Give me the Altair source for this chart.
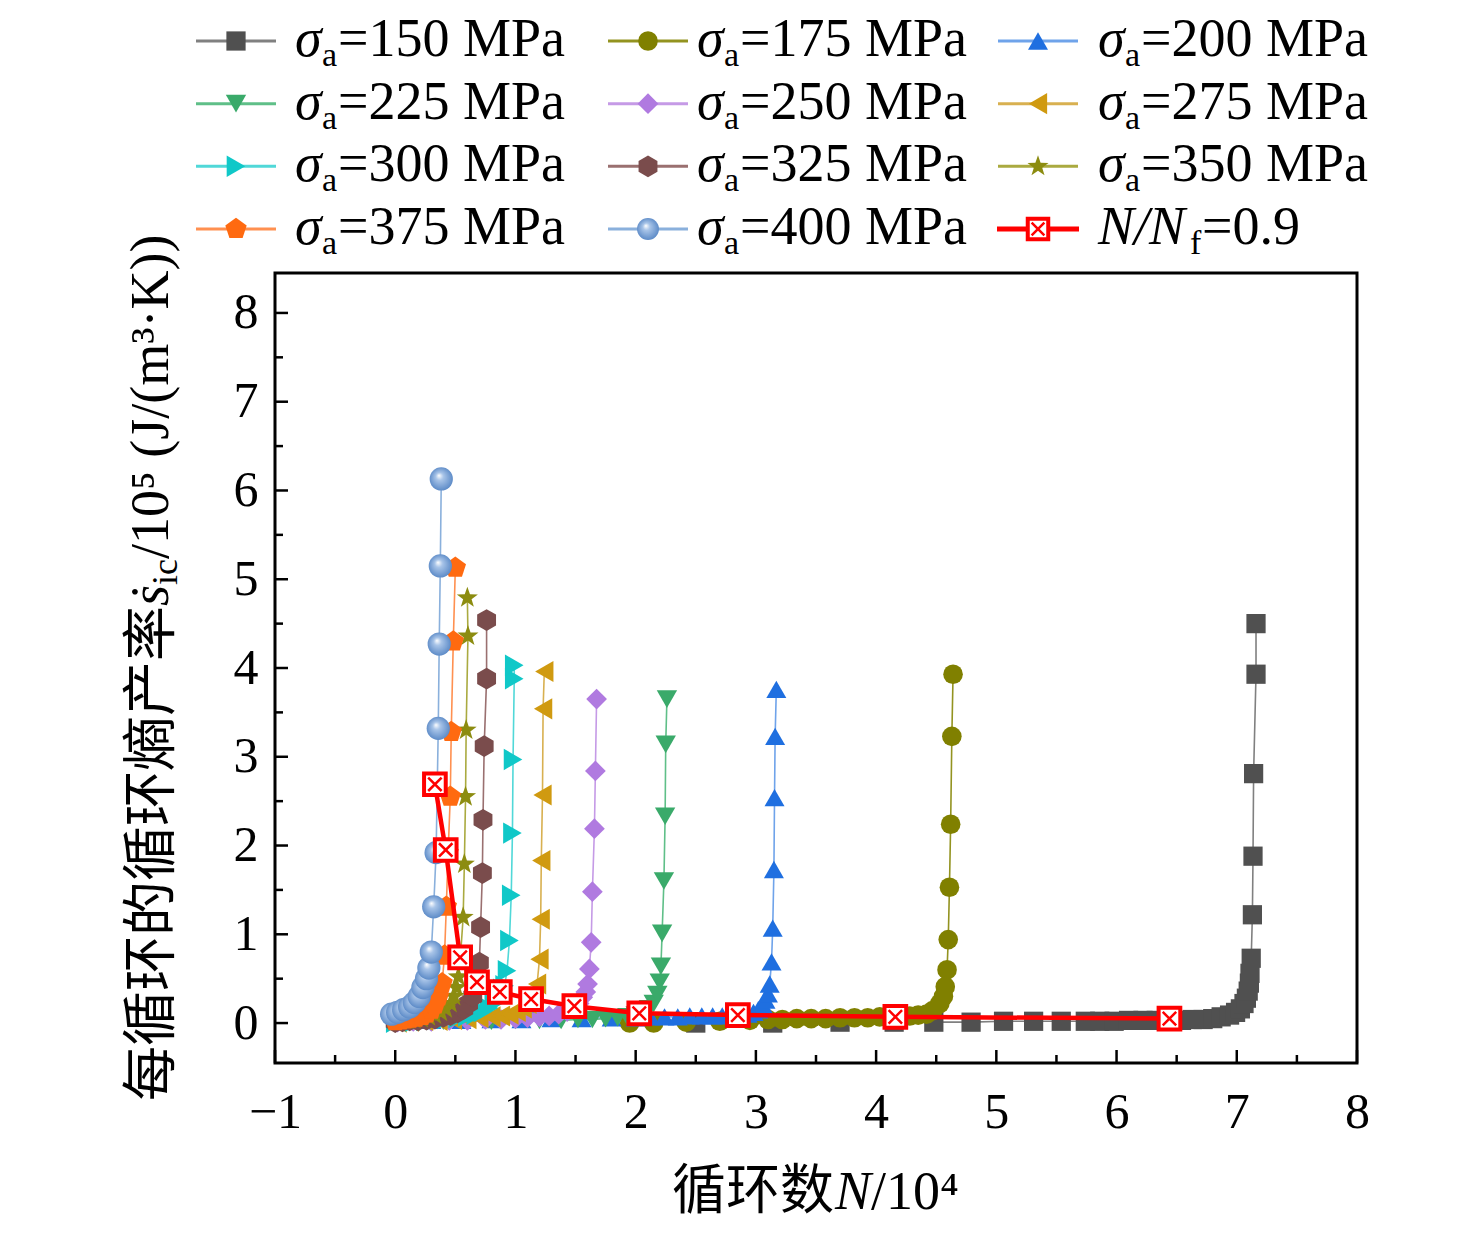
import altair as alt
import pandas as pd

SERIF = "Liberation Serif, DejaVu Serif, serif"
CJK = "Noto Sans CJK SC, Noto Sans CJK JP, sans-serif"

# ---------------- data ----------------
series_names = ["150", "175", "200", "225", "250", "275", "300", "325", "350", "375", "400"]

x150 = [2.50, 3.14, 3.70, 4.15, 4.48, 4.79, 5.06, 5.31, 5.54, 5.74, 5.86, 5.98, 6.10, 6.22, 6.33,
        6.44, 6.54, 6.63, 6.72, 6.80, 6.87, 6.94, 6.99, 7.03, 7.06, 7.08, 7.095, 7.105, 7.11, 7.12,
        7.13, 7.135, 7.14, 7.16, 7.16]
y150 = [0.00, 0.00, 0.01, 0.01, 0.01, 0.01, 0.02, 0.02, 0.02, 0.02, 0.02, 0.02, 0.03, 0.03, 0.03,
        0.03, 0.03, 0.04, 0.04, 0.05, 0.07, 0.09, 0.12, 0.16, 0.22, 0.28, 0.36, 0.45, 0.56, 0.73,
        1.22, 1.88, 2.81, 3.93, 4.50]

x175 = [1.95, 2.15, 2.42, 2.70, 2.95, 3.10, 3.22, 3.34, 3.46, 3.58, 3.70, 3.82, 3.93, 4.03, 4.12,
        4.20, 4.28, 4.35, 4.42, 4.47, 4.53, 4.56, 4.575, 4.59, 4.60, 4.61, 4.62, 4.63, 4.64]
y175 = [0.00, 0.00, 0.01, 0.02, 0.03, 0.04, 0.04, 0.05, 0.05, 0.05, 0.06, 0.06, 0.06, 0.07, 0.07,
        0.07, 0.08, 0.09, 0.10, 0.14, 0.22, 0.30, 0.41, 0.60, 0.94, 1.53, 2.24, 3.23, 3.93]

x200 = [0.05, 0.30, 0.55, 0.80, 1.05, 1.30, 1.55, 1.80, 2.00, 2.12, 2.24, 2.35, 2.45, 2.55, 2.64,
        2.72, 2.80, 2.87, 2.93, 2.98, 3.02, 3.06, 3.08, 3.10, 3.115, 3.13, 3.14, 3.15, 3.155, 3.16, 3.17]
y200 = [0.02, 0.03, 0.03, 0.04, 0.04, 0.05, 0.05, 0.06, 0.06, 0.07, 0.07, 0.07, 0.08, 0.08, 0.08,
        0.08, 0.09, 0.09, 0.10, 0.12, 0.15, 0.20, 0.26, 0.33, 0.44, 0.69, 1.07, 1.73, 2.54, 3.23, 3.76]

x225 = [0.02, 0.20, 0.40, 0.60, 0.80, 1.00, 1.20, 1.38, 1.52, 1.64, 1.75, 1.85, 1.93, 2.00, 2.06,
        2.11, 2.15, 2.18, 2.20, 2.21, 2.22, 2.235, 2.245, 2.25, 2.26]
y225 = [0.01, 0.01, 0.02, 0.02, 0.02, 0.03, 0.03, 0.03, 0.04, 0.04, 0.05, 0.06, 0.07, 0.09, 0.12,
        0.16, 0.22, 0.32, 0.46, 0.64, 1.01, 1.60, 2.33, 3.14, 3.65]

x250 = [0.02, 0.15, 0.30, 0.45, 0.60, 0.75, 0.88, 1.00, 1.10, 1.20, 1.28, 1.36, 1.43, 1.49, 1.53,
        1.56, 1.585, 1.60, 1.615, 1.63, 1.64, 1.657, 1.665, 1.675]
y250 = [0.01, 0.02, 0.02, 0.03, 0.03, 0.04, 0.04, 0.05, 0.06, 0.07, 0.08, 0.10, 0.13, 0.18, 0.22,
        0.29, 0.35, 0.44, 0.61, 0.91, 1.48, 2.19, 2.84, 3.65]

x275 = [0.02, 0.12, 0.24, 0.36, 0.48, 0.60, 0.70, 0.80, 0.88, 0.95, 1.01, 1.06, 1.10, 1.13, 1.16,
        1.18, 1.20, 1.21, 1.215, 1.225, 1.23, 1.24]
y275 = [0.01, 0.02, 0.03, 0.03, 0.04, 0.05, 0.06, 0.07, 0.08, 0.10, 0.13, 0.17, 0.22, 0.27, 0.32,
        0.44, 0.72, 1.17, 1.83, 2.57, 3.54, 3.96]

x300 = [0.00, 0.08, 0.16, 0.25, 0.34, 0.43, 0.52, 0.60, 0.67, 0.73, 0.78, 0.82, 0.85, 0.87, 0.89,
        0.91, 0.93, 0.95, 0.965, 0.975, 0.98, 0.99, 0.99]
y300 = [0.01, 0.02, 0.02, 0.03, 0.04, 0.05, 0.06, 0.08, 0.10, 0.13, 0.17, 0.22, 0.28, 0.35, 0.38,
        0.42, 0.59, 0.93, 1.44, 2.14, 2.97, 3.88, 4.03]

x325 = [0.00, 0.06, 0.12, 0.19, 0.26, 0.33, 0.40, 0.46, 0.52, 0.57, 0.61, 0.645, 0.67, 0.685, 0.70,
        0.71, 0.725, 0.73, 0.74, 0.76, 0.76]
y325 = [0.01, 0.02, 0.03, 0.03, 0.04, 0.05, 0.07, 0.09, 0.12, 0.16, 0.22, 0.30, 0.40, 0.50, 0.68,
        1.08, 1.69, 2.29, 3.12, 3.88, 4.54]

x350 = [0.00, 0.05, 0.10, 0.16, 0.22, 0.28, 0.33, 0.38, 0.42, 0.46, 0.49, 0.51, 0.525, 0.54, 0.565,
        0.575, 0.585, 0.59, 0.605, 0.60]
y350 = [0.02, 0.03, 0.03, 0.04, 0.05, 0.07, 0.09, 0.12, 0.16, 0.22, 0.30, 0.40, 0.52, 0.70, 1.19,
        1.79, 2.55, 3.30, 4.36, 4.79]

x375 = [0.00, 0.04, 0.08, 0.12, 0.17, 0.22, 0.26, 0.30, 0.33, 0.36, 0.39, 0.41, 0.425, 0.44, 0.458,
        0.466, 0.483, 0.50]
y375 = [0.02, 0.03, 0.04, 0.05, 0.06, 0.08, 0.11, 0.15, 0.21, 0.30, 0.45, 0.76, 1.31, 1.92, 2.55,
        3.28, 4.30, 5.13]

x400 = [-0.03, 0.02, 0.07, 0.12, 0.16, 0.20, 0.23, 0.26, 0.28, 0.30, 0.32, 0.34, 0.358, 0.366, 0.375, 0.383]
y400 = [0.10, 0.12, 0.15, 0.18, 0.23, 0.30, 0.40, 0.50, 0.62, 0.80, 1.31, 1.92, 3.32, 4.27, 5.15, 6.13]

ratio_x = [0.33, 0.42, 0.54, 0.68, 0.87, 1.13, 1.49, 2.03, 2.85, 4.16, 6.44]
ratio_y = [2.69, 1.95, 0.74, 0.46, 0.35, 0.27, 0.19, 0.11, 0.09, 0.07, 0.05]

x_major = [-1, 0, 1, 2, 3, 4, 5, 6, 7, 8]
x_minor = [-0.5, 0.5, 1.5, 2.5, 3.5, 4.5, 5.5, 6.5, 7.5]
y_major = [0, 1, 2, 3, 4, 5, 6, 7, 8]
y_minor = [0.5, 1.5, 2.5, 3.5, 4.5, 5.5, 6.5, 7.5]

leg_col = [0, 1, 2, 0, 1, 2, 0, 1, 2, 0, 1]
leg_row = [0, 0, 0, 1, 1, 1, 2, 2, 2, 3, 3]

# ---------------- styles ----------------
series_fill = ["#505050", "#808000", "#1f6fe0", "#3aaa6a", "#b07ae0", "#d09a10",
               "#10c8c8", "#7a4c4c", "#8c8c10", "#ff6a10", "#6a9ad0"]
series_line = ["#808080", "#939320", "#6fa3ea", "#5fbf88", "#c59ae6", "#d8b050",
               "#50d8d8", "#9a7070", "#aaaa40", "#ff9050", "#8ab0dc"]
HEX = "M0,-1L0.866,-0.5L0.866,0.5L0,1L-0.866,0.5L-0.866,-0.5Z"
STAR = ("M0,-1L0.235,-0.324L0.951,-0.309L0.38,0.124L0.588,0.809L0,0.4L-0.588,0.809"
        "L-0.38,0.124L-0.951,-0.309L-0.235,-0.324Z")
PENT = "M0,-1L0.951,-0.309L0.588,0.809L-0.588,0.809L-0.951,-0.309Z"
CROSS = "M-0.62,-0.62L0.62,0.62M-0.62,0.62L0.62,-0.62"
series_shape = ["square", "circle", "triangle-up", "triangle-down", "diamond", "triangle-left",
                "triangle-right", HEX, STAR, PENT, "circle"]
series_size = [370, 520, 540, 540, 600, 540, 540, 520, 720, 580, 540]

sphere = alt.RadialGradient(
    gradient="radial",
    stops=[alt.GradientStop(offset=0, color="#ffffff"),
           alt.GradientStop(offset=0.3, color="#a8c4e8"),
           alt.GradientStop(offset=1, color="#5585c4")],
    x1=0.4, y1=0.35, r1=0, x2=0.5, y2=0.5, r2=0.55)

xs_all = [x150, x175, x200, x225, x250, x275, x300, x325, x350, x375, x400]
ys_all = [y150, y175, y200, y225, y250, y275, y300, y325, y350, y375, y400]
rows = []
for name, xs, ys in zip(series_names, xs_all, ys_all):
    for i, (a, b) in enumerate(zip(xs, ys)):
        rows.append({"s": name, "i": i, "x": a, "y": b})
df = pd.DataFrame(rows)
ratio_df = pd.DataFrame({"x": ratio_x, "y": ratio_y, "i": list(range(len(ratio_x)))})

stroke_scale = alt.Scale(domain=series_names, range=series_line)
fill_scale = alt.Scale(domain=series_names, range=series_fill)
shape_scale = alt.Scale(domain=series_names, range=series_shape)
size_scale = alt.Scale(domain=series_names, range=series_size)

# ---------------- main plot ----------------
xsc = alt.Scale(domain=[-1, 8], nice=False, zero=False)
ysc = alt.Scale(domain=[-0.45, 8.45], nice=False, zero=False)
xaxis = alt.Axis(values=x_major, ticks=False, domain=False, grid=False, labelFont=SERIF,
                 labelFontSize=50, labelColor="black", labelPadding=24, title=None,
                 labelFlush=False, labelOverlap=False)
yaxis = alt.Axis(values=y_major, ticks=False, domain=False, grid=False, labelFont=SERIF,
                 labelFontSize=50, labelColor="black", labelPadding=17, title=None,
                 labelOverlap=False)


def X(f):
    return alt.X(f, scale=xsc, axis=xaxis)


def Y(f):
    return alt.Y(f, scale=ysc, axis=yaxis)


lines = alt.Chart(df).mark_line(strokeWidth=1.6).encode(
    x=X("x:Q"), y=Y("y:Q"),
    stroke=alt.Stroke("s:N", scale=stroke_scale, legend=None),
    order="i:Q")

points = alt.Chart(df).transform_filter("datum.s != '400'").mark_point(
    filled=True, opacity=1, strokeWidth=0).encode(
    x=X("x:Q"), y=Y("y:Q"),
    shape=alt.Shape("s:N", scale=shape_scale, legend=None),
    fill=alt.Fill("s:N", scale=fill_scale, legend=None),
    size=alt.Size("s:O", scale=size_scale, legend=None))

spheres = alt.Chart(df).transform_filter("datum.s == '400'").mark_point(
    shape="circle", filled=True, size=540, fill=sphere, strokeWidth=0, opacity=1).encode(
    x=X("x:Q"), y=Y("y:Q"))

red_line = alt.Chart(ratio_df).mark_line(color="#ff0000", strokeWidth=4.5).encode(
    x=X("x:Q"), y=Y("y:Q"), order="i:Q")
red_sq = alt.Chart(ratio_df).mark_point(
    shape="square", size=470, fill="white", fillOpacity=1, stroke="#ff0000",
    strokeWidth=4, opacity=1).encode(x=X("x:Q"), y=Y("y:Q"))
red_x = alt.Chart(ratio_df).mark_point(
    shape=CROSS, size=470, stroke="#ff0000", strokeWidth=2.5, opacity=1).encode(
    x=X("x:Q"), y=Y("y:Q"))

ytick_major = alt.Chart(pd.DataFrame({"v": y_major})).mark_rule(color="black", strokeWidth=2.5).encode(
    y=Y("v:Q"), x=alt.value(0), x2=alt.value(13))
ytick_minor = alt.Chart(pd.DataFrame({"v": y_minor})).mark_rule(color="black", strokeWidth=2.5).encode(
    y=Y("v:Q"), x=alt.value(0), x2=alt.value(8))
xtick_major = alt.Chart(pd.DataFrame({"v": x_major})).mark_rule(color="black", strokeWidth=2.5).encode(
    x=X("v:Q"), y=alt.value(790), y2=alt.value(777))
xtick_minor = alt.Chart(pd.DataFrame({"v": x_minor})).mark_rule(color="black", strokeWidth=2.5).encode(
    x=X("v:Q"), y=alt.value(790), y2=alt.value(782))


def label(text, x, y, font, size, angle=0, style="normal", align="left", baseline="middle"):
    kw = dict(font=font, fontSize=size, fontStyle=style, align=align, baseline=baseline,
              color="black")
    if angle:
        kw["angle"] = angle
    return alt.Chart(pd.DataFrame({"t": [text]})).mark_text(**kw).encode(
        text="t:N", x=alt.value(x), y=alt.value(y))


ytitle = [
    label("每循环的循环熵产率", -123, 828, CJK, 55, angle=270),
    label("ṡ", -123, 333, SERIF, 54, angle=270, style="italic"),
    label("ic", -109, 312, SERIF, 36, angle=270),
    label("/10⁵ (J/(m³·K))", -123, 286, SERIF, 54, angle=270),
]
xtitle = [
    label("循环数", 397, 920, CJK, 54),
    label("N", 560, 920, SERIF, 54, style="italic"),
    label("/10⁴", 596, 920, SERIF, 54),
]

main = alt.layer(
    lines, points, spheres, red_line, red_sq, red_x,
    ytick_major, ytick_minor, xtick_major, xtick_minor,
    *ytitle, *xtitle
).properties(width=1082, height=790,
             view=alt.ViewBackground(stroke="black", strokeWidth=3, fill="white"))

# ---------------- legend ----------------
leg_df = pd.DataFrame({
    "s": series_names, "col": leg_col, "row": leg_row,
    "sym": ["σ"] * len(series_names), "sub": ["a"] * len(series_names),
    "rest": ["=" + n + " MPa" for n in series_names]})
red_leg = pd.DataFrame({"col": [2], "row": [3], "sym": ["N/N"], "sub": ["f"], "rest": ["=0.9"]})

# marker at col, text anchor at col + 0.5
lxs = alt.Scale(domain=[0, 0.5, 1, 1.5, 2, 2.5], range=[-39, 20, 373, 422, 763, 823])
lys = alt.Scale(domain=[0, 3], range=[0, 188])


def LX(f):
    return alt.X(f, scale=lxs, axis=None, title=None)


def LY(f):
    return alt.Y(f, scale=lys, axis=None, title=None)


l_line = alt.Chart(leg_df).mark_tick(orient="horizontal", size=80, thickness=3, opacity=1).encode(
    x=LX("col:Q"), y=LY("row:Q"),
    color=alt.Color("s:N", scale=stroke_scale, legend=None))
l_pts = alt.Chart(leg_df).transform_filter("datum.s != '400'").mark_point(
    filled=True, opacity=1, strokeWidth=0).encode(
    x=LX("col:Q"), y=LY("row:Q"),
    shape=alt.Shape("s:N", scale=shape_scale, legend=None),
    fill=alt.Fill("s:N", scale=fill_scale, legend=None),
    size=alt.Size("s:O", scale=size_scale, legend=None))
l_sph = alt.Chart(leg_df).transform_filter("datum.s == '400'").mark_point(
    shape="circle", filled=True, size=480, fill=sphere, strokeWidth=0, opacity=1).encode(
    x=LX("col:Q"), y=LY("row:Q"))


def ltext(data, field, dx, dy, size, style="normal"):
    return alt.Chart(data).transform_calculate(tx="datum.col + 0.5").mark_text(
        font=SERIF, fontSize=size, fontStyle=style, align="left", baseline="alphabetic",
        dx=dx, dy=dy, color="black").encode(x=LX("tx:Q"), y=LY("row:Q"), text=field + ":N")


l_sym = ltext(leg_df, "sym", 0, 15, 54, "italic")
l_sub = ltext(leg_df, "sub", 27, 25, 34)
l_rest = ltext(leg_df, "rest", 43, 15, 54)

r_line = alt.Chart(red_leg).mark_tick(orient="horizontal", size=82, thickness=5,
                                      color="#ff0000", opacity=1).encode(
    x=LX("col:Q"), y=LY("row:Q"))
r_sq = alt.Chart(red_leg).mark_point(
    shape="square", size=420, fill="white", fillOpacity=1, stroke="#ff0000",
    strokeWidth=4, opacity=1).encode(x=LX("col:Q"), y=LY("row:Q"))
r_x = alt.Chart(red_leg).mark_point(
    shape=CROSS, size=420, stroke="#ff0000", strokeWidth=2.5, opacity=1).encode(
    x=LX("col:Q"), y=LY("row:Q"))
r_sym = ltext(red_leg, "sym", 0, 15, 54, "italic")
r_sub = ltext(red_leg, "sub", 92, 25, 34)
r_rest = ltext(red_leg, "rest", 104, 15, 54)

legend = alt.layer(
    l_line, l_pts, l_sph, l_sym, l_sub, l_rest,
    r_line, r_sq, r_x, r_sym, r_sub, r_rest
).properties(width=1082, height=188, view=alt.ViewBackground(stroke="transparent"))

chart = alt.vconcat(legend, main, spacing=44, bounds="flush").resolve_scale(
    x="independent", y="independent", stroke="independent", fill="independent",
    shape="independent", size="independent", color="independent"
).properties(padding={"left": 115, "top": 4, "right": 10, "bottom": 10},
             background="white")

chart.save("out.html", embed_options={"renderer": "svg", "actions": False})
